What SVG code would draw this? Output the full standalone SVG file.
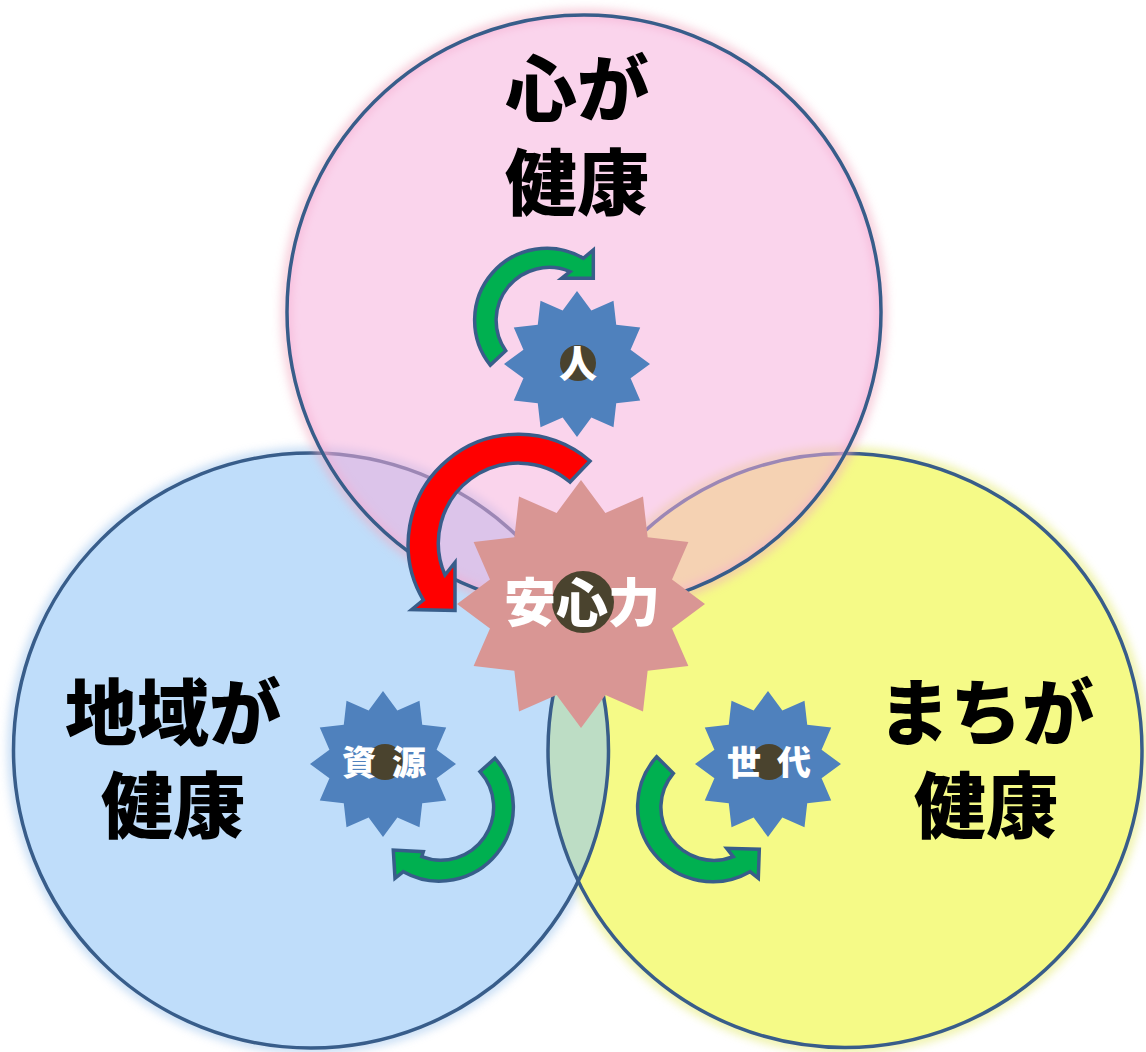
<svg xmlns="http://www.w3.org/2000/svg" width="1146" height="1052" viewBox="0 0 1146 1052">
<style>
.ring{fill:none;stroke:#385D8A;stroke-width:3.5}
.lbl{font-family:"Noto Sans CJK JP","Noto Sans CJK SC",sans-serif;font-weight:900;font-size:72px;fill:#000;text-anchor:middle}
.wl{font-family:"Noto Sans CJK JP","Noto Sans CJK SC",sans-serif;font-weight:900;fill:#fff;text-anchor:middle}
.sb{fill:#4F81BD}
.dot{fill:#4A432E}
.arr{stroke:#385D8A;stroke-width:3.5;stroke-linejoin:miter}
.g{fill:#00B050}
.r{fill:#FF0000}
</style>
<defs>
<path id="star" d="M100,0 L73.41,19.67 L86.6,50 L53.74,53.74 L50,86.6 L19.67,73.41 L0,100 L-19.67,73.41 L-50,86.6 L-53.74,53.74 L-86.6,50 L-73.41,19.67 L-100,0 L-73.41,-19.67 L-86.6,-50 L-53.74,-53.74 L-50,-86.6 L-19.67,-73.41 L0,-100 L19.67,-73.41 L50,-86.6 L53.74,-53.74 L86.6,-50 L73.41,-19.67 Z"/>
<clipPath id="clipBlue"><circle cx="311" cy="750.5" r="297.5"/></clipPath>
<filter id="blur" x="-20%" y="-20%" width="140%" height="140%"><feGaussianBlur stdDeviation="5"/></filter>
</defs>
<rect width="1146" height="1052" fill="#fff"/>
<g id="glows" filter="url(#blur)" fill="none" stroke-width="10" opacity="0.7">
<circle cx="311" cy="750.5" r="298" stroke="#A9CBEF"/>
<circle cx="845" cy="750.5" r="298" stroke="#E6EC7A"/>
</g>
<g id="node-chiiki">
<circle cx="311" cy="750.5" r="297.5" fill="#BFDDFA"/>
</g>
<g id="node-machi">
<circle cx="845" cy="750.5" r="297" fill="#F5FA87"/>
<circle cx="845" cy="750.5" r="297" fill="#BDDDC5" clip-path="url(#clipBlue)"/>
</g>
<circle class="ring" cx="311" cy="750.5" r="297.5"/>
<circle class="ring" cx="845" cy="750.5" r="297"/>
<g id="node-kokoro">
<circle cx="584" cy="312" r="298" fill="none" stroke="#F2A9C0" stroke-width="10" opacity="0.6" filter="url(#blur)"/>
<circle cx="584" cy="312" r="297" fill="#F6AEDB" fill-opacity="0.53"/>
<circle class="ring" cx="584" cy="312" r="297"/>
</g>
<g id="labels">
<text class="lbl"><tspan x="577" y="115">心が</tspan><tspan x="577" y="209">健康</tspan></text>
<text class="lbl"><tspan x="173" y="739">地域が</tspan><tspan x="173" y="832">健康</tspan></text>
<text class="lbl"><tspan x="986" y="739">まちが</tspan><tspan x="986" y="832">健康</tspan></text>
</g>
<g id="connectors">
<path class="arr g" d="M490.3,365.1 A72,72 0 0 1 583.3,258.3 L593.3,250 L593.3,278.3 L561.7,278.3 L570,271.7 A53,53 0 0 0 505.7,350.8 Z"/>
<path class="arr r" d="M590,461 A110,110 0 0 0 423.3,600 L411.7,609.5 L455,610.5 L455,562.5 L445,575 A80,80 0 0 1 570,482 Z"/>
<path class="arr g" d="M495,758.3 A74,74 0 0 1 403.3,871.7 L395,878.3 L393.3,850 L423.3,851.7 L421.7,856.7 A53,53 0 0 0 480,771.7 Z"/>
<path class="arr g" d="M656.7,756.7 A75,75 0 0 0 750,871.7 L758.3,878.3 L759.3,849.3 L726.7,848.3 L733.3,856.7 A53,53 0 0 1 673.3,773.3 Z"/>
</g>
<g id="node-hito">
<use href="#star" class="sb" transform="translate(577,364) scale(0.73)"/>
<circle class="dot" cx="578" cy="363" r="18"/>
<text class="wl" x="578" y="377" font-size="38">人</text>
</g>
<g id="node-anshin">
<use href="#star" fill="#D99694" transform="translate(581,604) scale(1.24)"/>
<circle class="dot" cx="583" cy="602" r="31"/>
<text class="wl" x="582" y="622" font-size="52">安心力</text>
</g>
<g id="node-shigen">
<use href="#star" class="sb" transform="translate(383,764) scale(0.73)"/>
<circle class="dot" cx="385" cy="762" r="18"/>
<text class="wl" x="386" y="775" font-size="34" letter-spacing="4">資 源</text>
</g>
<g id="node-sedai">
<use href="#star" class="sb" transform="translate(768,764) scale(0.73)"/>
<circle class="dot" cx="769" cy="762" r="18"/>
<text class="wl" x="771" y="775" font-size="34" letter-spacing="4">世 代</text>
</g>
</svg>
